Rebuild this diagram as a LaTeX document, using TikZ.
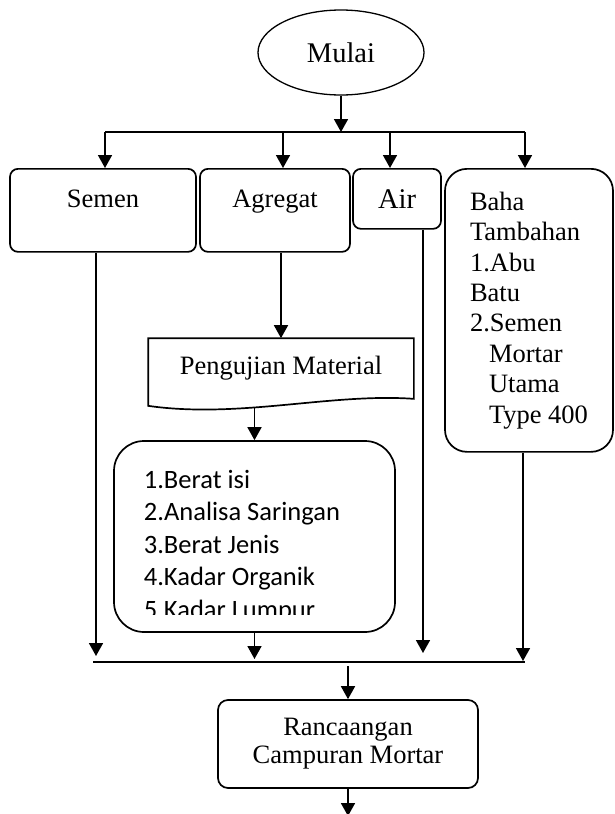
\documentclass[tikz,border=0pt]{standalone}
\usepackage{fontspec}
\setmainfont{Liberation Serif}
\newfontfamily\calibri{Carlito}
\usetikzlibrary{arrows.meta,shapes.geometric}

\tikzset{
  kotak/.style={draw, rounded corners=8pt, inner sep=0pt,
    font=\fontsize{26.5}{30.4}\selectfont},
  teks/.style={inner sep=0pt, font=\fontsize{26.5}{30.4}\selectfont}
}

\begin{document}
\begin{tikzpicture}[x=1pt, y=-1pt, line width=1.7pt,
  >={Triangle[length=13pt,width=14pt]}]

  \useasboundingbox (0,0) rectangle (614,814);

  \node [ellipse, draw, line width=1.3pt, minimum width=166pt, minimum height=85pt,
    teks, font=\fontsize{28.5}{30}\selectfont] (mulai) at (341,52.5) {Mulai};

  \node [kotak, anchor=north, minimum width=186pt, text height=38.5pt,
    text depth=44.5pt] (semen) at (103,168) {Semen};

  \node [kotak, anchor=north, minimum width=150pt, text height=38.5pt,
    text depth=44.5pt] (agregat) at (275,168) {Agregat};

  \node [kotak, anchor=north, minimum width=88pt, text height=39.5pt,
    text depth=20.5pt, font=\fontsize{28.5}{30}\selectfont] (air) at (397,168) {Air};

  \node [kotak, rounded corners=22pt, anchor=north, minimum width=168pt,
    minimum height=283pt, align=left] (tambahan) at (529,168)
    {Baha\\Tambahan\\1.Abu\\Batu\\2.Semen\\\hspace*{19pt}Mortar\\
     \hspace*{19pt}Utama\\\hspace*{19pt}Type 400};

  \node [teks, minimum width=264pt, minimum height=59pt] (uji) at (281,368.5)
    {Pengujian Material};

  \draw (uji.north west) -- (uji.north east) -- (uji.south east)
    .. controls +(-83,-6) and +(91,13) .. ([yshift=-7pt]uji.south west) -- cycle;

  \node [kotak, rounded corners=30pt, minimum width=281pt, minimum height=191pt]
    (hasil) at (254.5,536.5) {};

  \begin{scope}
    \clip (120,445) rectangle (390,614);
    \node [anchor=north west, inner sep=0pt, align=left,
      font=\calibri\fontsize{26.5}{32.5}\selectfont] (daftar) at (143,469)
      {1.Berat isi\\2.Analisa Saringan\\3.Berat Jenis\\4.Kadar Organik\\5.Kadar Lumpur};
  \end{scope}

  \node [kotak, rounded corners=10pt, minimum width=260pt, minimum height=88pt,
    align=center, font=\fontsize{26.5}{28}\selectfont] (rancangan) at (348,744)
    {Rancaangan\\Campuran Mortar};

  \coordinate (kS) at (105,132);
  \coordinate (kG) at (283,132);
  \coordinate (kA) at (390,132);
  \coordinate (kT) at (525,132);

  \coordinate (tS) at (96,656);
  \coordinate (tU) at (254.5,659);
  \coordinate (tA) at (423,653);
  \coordinate (tT) at (523,661);
  \coordinate (garis) at (0,662);
  \coordinate (akhir) at (348,816);

  \path [->] (mulai) edge (mulai |- kS);

  \draw (kS) -- (kT);

  \path [->] (kS) edge (kS |- semen.north);

  \path [->] (kG) edge (kG |- agregat.north);

  \path [->] (kA) edge (kA |- air.north);

  \path [->] (kT) edge (kT |- tambahan.north);

  \path [->] (agregat.south -| uji.north) edge (uji.north);

  \path [->] ([yshift=-9pt]uji.south -| hasil.north) edge (hasil.north);

  \path [->] (semen.south -| tS) edge (tS);

  \path [->] (hasil.south) edge (tU);

  \path [->] (air.south -| tA) edge (tA);

  \path [->] (tambahan.south -| tT) edge (tT);

  \draw ([xshift=-3pt]tS |- garis) -- ([xshift=2pt]tT |- garis);

  \path [->] ([yshift=-4pt]rancangan.north |- garis) edge (rancangan.north);

  \path [->] (rancangan.south) edge (akhir);

\end{tikzpicture}
\end{document}
